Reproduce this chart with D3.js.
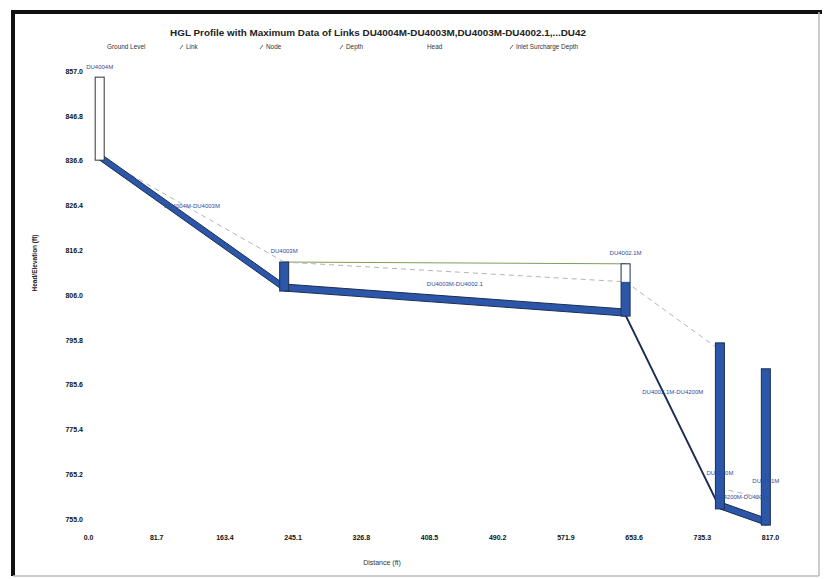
<!DOCTYPE html>
<html>
<head>
<meta charset="utf-8">
<script src="https://cdn.jsdelivr.net/npm/d3@7"></script>
<style>
  body { margin: 0; background: #fff; }
  text { font-family: "Liberation Sans", Arial, sans-serif; }
</style>
</head>
<body>
<div id="chart"></div>
<script>
/* DATA
------------------------------------------------------
*/
const title = "HGL Profile with Maximum Data of Links DU4004M-DU4003M,DU4003M-DU4002.1,...DU42";
const legendLabels = ["Ground Level", "Link", "Node", "Depth", "Head", "Inlet Surcharge Depth"];
const legendSlash = [false, true, true, true, false, true];

const xTicks = [0.0, 81.7, 163.4, 245.1, 326.8, 408.5, 490.2, 571.9, 653.6, 735.3, 817.0];
const yTicks = [755.0, 765.2, 775.4, 785.6, 795.8, 806.0, 816.2, 826.4, 836.6, 846.8, 857.0];

// nodes
const nodeNames = ["DU4004M", "DU4003M", "DU4002.1M", "DU4200M", "DU4201M"];
const nodeDist = [14, 235, 644, 757, 812];
const nodeRim = [855.6, 813.5, 813.1, 795.1, 789.2];
const nodeInvert = [836.7, 806.9, 801.2, 757.3, 753.6];
const nodeHead = [836.7, 813.5, 809.0, 795.1, 789.2];
const nodeLabelElev = [857.5, 815.5, 815.0, 765.0, 763.2];

// links (upstream node index -> downstream node index)
const linkNames = ["DU4004M-DU4003M", "DU4003M-DU4002.1", "DU4002.1M-DU4200M", "DU4200M-DU4201M"];
const linkUp = [0, 1, 2, 3];
const linkDn = [1, 2, 3, 4];
const linkDiam = [1.6, 1.6, 0.35, 1.6];
const linkHglUp = [837.4, 813.5, 809.0, 762.0];
const linkHglDn = [813.5, 809.0, 793.5, 759.6];
const linkGroundUp = [null, 813.5, null, null];
const linkGroundDn = [null, 813.1, null, null];

/* DIMENSIONS
------------------------------------------------------
*/
const width = 824, height = 579;

const svg = d3.select("#chart").append("svg")
  .attr("width", width)
  .attr("height", height);

// scanned page frame
svg.append("line").attr("x1", 13).attr("y1", 12).attr("x2", 822).attr("y2", 12)
  .attr("stroke", "#111").attr("stroke-width", 4);
svg.append("line").attr("x1", 13).attr("y1", 10).attr("x2", 13).attr("y2", 576)
  .attr("stroke", "#111").attr("stroke-width", 4);
svg.append("line").attr("x1", 819).attr("y1", 12).attr("x2", 819).attr("y2", 576)
  .attr("stroke", "#bbb").attr("stroke-width", 1.5);
svg.append("line").attr("x1", 13).attr("y1", 576).attr("x2", 819).attr("y2", 576)
  .attr("stroke", "#bbb").attr("stroke-width", 1.5);

const x = d3.scaleLinear().domain([0, 817]).range([88, 770]);
const y = d3.scaleLinear().domain([755, 857]).range([519, 71]);

/* TITLE, LEGEND
------------------------------------------------------
*/
svg.append("text")
  .attr("x", 378).attr("y", 36)
  .attr("text-anchor", "middle")
  .attr("font-size", "9.9px")
  .attr("font-weight", "bold")
  .attr("fill", "#222")
  .text(title);

const legendX = [107, 180, 260, 340, 427, 510];
const lg = svg.append("g").selectAll("g")
  .data(legendLabels)
  .enter().append("g")
  .attr("transform", (d, i) => `translate(${legendX[i]},49)`);
lg.filter((d, i) => legendSlash[i]).append("line")
  .attr("x1", 0).attr("y1", 0).attr("x2", 3).attr("y2", -4)
  .attr("stroke", "#444").attr("stroke-width", 0.8);
lg.append("text")
  .attr("x", (d, i) => legendSlash[i] ? 6 : 0)
  .attr("font-size", "6.4px")
  .attr("fill", "#333")
  .text(d => d);

/* AXES
------------------------------------------------------
*/
const yAxis = svg.append("g")
  .attr("transform", "translate(88,0)")
  .call(d3.axisLeft(y).tickValues(yTicks).tickSize(0).tickPadding(5).tickFormat(d3.format(".1f")));
yAxis.select(".domain").remove();
yAxis.selectAll("text").attr("font-size", "7px").attr("font-weight", "bold").attr("fill", "#111")
  .attr("font-family", "'Liberation Sans', Arial, sans-serif");

const xAxis = svg.append("g")
  .attr("transform", "translate(0,532)")
  .call(d3.axisBottom(x).tickValues(xTicks).tickSize(0).tickPadding(3).tickFormat(d3.format(".1f")));
xAxis.select(".domain").remove();
xAxis.selectAll("text").attr("font-size", "7px").attr("font-weight", "bold").attr("fill", "#111")
  .attr("font-family", "'Liberation Sans', Arial, sans-serif");

svg.append("text")
  .attr("x", 382).attr("y", 565)
  .attr("text-anchor", "middle")
  .attr("font-size", "7px")
  .attr("fill", "#333")
  .text("Distance (ft)");

svg.append("text")
  .attr("transform", "translate(37,263) rotate(-90)")
  .attr("text-anchor", "middle")
  .attr("font-size", "6.5px")
  .attr("font-weight", "bold")
  .attr("fill", "#222")
  .text("Head/Elevation (ft)");

/* LINKS
------------------------------------------------------
*/
const links = linkNames.map((name, i) => ({
  name: name,
  x1: nodeDist[linkUp[i]], x2: nodeDist[linkDn[i]],
  inv1: nodeInvert[linkUp[i]], inv2: nodeInvert[linkDn[i]],
  diam: linkDiam[i],
  h1: linkHglUp[i], h2: linkHglDn[i],
  g1: linkGroundUp[i], g2: linkGroundDn[i]
}));

const pipeBlue = "#2c57a8";
const pipeEdge = "#1b2d55";

// ground level lines
svg.append("g").selectAll("line")
  .data(links.filter(d => d.g1 !== null))
  .enter().append("line")
  .attr("x1", d => x(d.x1)).attr("y1", d => y(d.g1))
  .attr("x2", d => x(d.x2)).attr("y2", d => y(d.g2))
  .attr("stroke", "#7d9e5a").attr("stroke-width", 1);

// hydraulic grade lines
svg.append("g").selectAll("line")
  .data(links)
  .enter().append("line")
  .attr("x1", d => x(d.x1)).attr("y1", d => y(d.h1))
  .attr("x2", d => x(d.x2)).attr("y2", d => y(d.h2))
  .attr("stroke", "#b4b4b4").attr("stroke-width", 1)
  .attr("stroke-dasharray", "5,4");

// pipes
svg.append("g").selectAll("path")
  .data(links)
  .enter().append("path")
  .attr("d", d => {
    const pts = [[x(d.x1), y(d.inv1 + d.diam)], [x(d.x2), y(d.inv2 + d.diam)],
                 [x(d.x2), y(d.inv2)], [x(d.x1), y(d.inv1)]];
    return d3.line()(pts) + "Z";
  })
  .attr("fill", d => d.diam < 0.5 ? "#1e2a3a" : pipeBlue)
  .attr("stroke", pipeEdge)
  .attr("stroke-width", d => d.diam < 0.5 ? 1.2 : 1);

/* NODES
------------------------------------------------------
*/
const nodes = nodeNames.map((name, i) => ({
  name: name, dist: nodeDist[i], rim: nodeRim[i], inv: nodeInvert[i],
  head: nodeHead[i], labelElev: nodeLabelElev[i]
}));
const nodeW = 9;

const ng = svg.append("g").selectAll("g")
  .data(nodes)
  .enter().append("g");

ng.append("rect")
  .attr("x", d => x(d.dist) - nodeW / 2)
  .attr("y", d => y(d.rim))
  .attr("width", nodeW)
  .attr("height", d => y(d.inv) - y(d.rim))
  .attr("fill", "#fff");

ng.append("rect")
  .attr("x", d => x(d.dist) - nodeW / 2)
  .attr("y", d => y(d.head))
  .attr("width", nodeW)
  .attr("height", d => y(d.inv) - y(d.head))
  .attr("fill", pipeBlue);

ng.append("rect")
  .attr("x", d => x(d.dist) - nodeW / 2)
  .attr("y", d => y(d.rim))
  .attr("width", nodeW)
  .attr("height", d => y(d.inv) - y(d.rim))
  .attr("fill", "none")
  .attr("stroke", d => d.head > d.inv ? pipeEdge : "#333")
  .attr("stroke-width", 1);

/* LABELS
------------------------------------------------------
*/
const labelBlue = "#2d4c9c";

svg.append("g").selectAll("text")
  .data(nodes)
  .enter().append("text")
  .attr("x", d => x(d.dist))
  .attr("y", d => y(d.labelElev))
  .attr("text-anchor", "middle")
  .attr("font-size", "6px")
  .attr("fill", labelBlue)
  .text(d => d.name);

svg.append("g").selectAll("text")
  .data(links)
  .enter().append("text")
  .attr("x", d => (x(d.x1) + x(d.x2)) / 2)
  .attr("y", d => y((d.inv1 + d.inv2) / 2) - 18)
  .attr("text-anchor", "middle")
  .attr("font-size", "6px")
  .attr("fill", labelBlue)
  .text(d => d.name);
</script>
</body>
</html>
